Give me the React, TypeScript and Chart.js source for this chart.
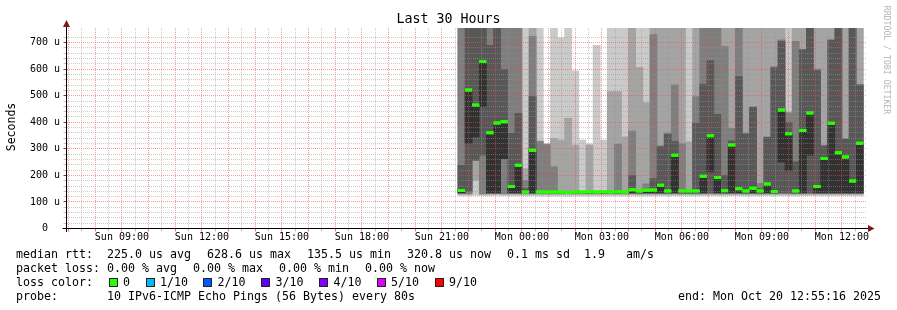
import React, { useEffect, useRef } from "react";
import { Chart, registerables } from "chart.js";

Chart.register(...registerables);

// ---- time axis (hours after Sun 00:00) ----
const RANGE_START = 6 + 55 / 60 + 16 / 3600; // Sun 06:55:16
const RANGE_END = RANGE_START + 30; // Mon 12:55:16
const BIN_START = 21 + 36 / 60; // first 16-minute bin: Sun 21:36
const BIN_HOURS = 16 / 60;
const Y_MAX = 755; // microseconds
const DAY_NAMES = ["Sun", "Mon"];

// ---- sorted ping round-trip times per 16-minute bin (µs) ----
const ping1 = [124,124,125,124,124,125,124,124,124,123,124,123,123,123,123,122,123,123,123,123,123,123,123,123,124,123,123,123,124,123,124,123,123,123,124,124,124,123,124,124,123,124,123,124,123,124,124,123,124,124,124,124,124,124,124,124,124];
const ping2 = [128,128,181,128,128,128,128,128,128,128,128,128,128,128,128,128,128,128,128,128,128,128,128,128,128,128,128,128,128,128,128,128,128,128,128,128,128,128,128,128,128,128,128,128,128,128,128,128,128,128,128,128,128,128,128,128,128];
const ping3 = [131,131,255,131,131,131,131,131,131,131,131,131,131,131,131,131,131,131,131,131,131,131,131,131,131,131,131,131,131,131,131,131,131,131,131,131,131,131,131,131,131,131,131,131,131,131,131,131,131,131,131,131,131,131,131,131,131];
const ping4 = [133,140,257,276,133,133,262,133,133,133,133,133,133,133,133,133,133,133,133,133,133,133,133,133,133,133,133,133,133,133,133,133,133,133,133,135,133,133,133,133,133,133,133,133,133,135,135,133,133,135,133,133,133,133,133,133,133];
const ping5 = [135,320,345,459,135,135,263,135,135,135,135,135,135,135,135,135,135,135,135,135,135,135,135,135,135,135,135,135,135,135,135,135,135,135,135,213,135,135,135,135,135,135,135,135,135,251,219,135,135,276,135,135,135,135,135,135,135];
const ping6 = [143,522,465,629,361,397,402,160,238,138,295,137,137,137,137,137,137,137,137,137,137,137,137,137,146,140,143,145,165,141,276,141,141,141,197,349,192,142,314,152,141,152,141,168,139,446,357,141,369,435,158,264,396,285,269,179,321];
const ping7 = [238,800,800,800,690,800,598,358,434,150,497,140,140,140,138,138,138,138,138,138,138,138,139,138,200,141,145,188,308,355,327,143,142,396,543,632,430,200,330,572,356,455,150,343,605,705,400,251,673,800,595,310,709,800,336,800,540];
const ping8 = [800,800,800,800,800,800,800,800,800,180,724,327,316,232,138,138,140,139,140,139,139,140,318,140,367,142,168,730,312,360,541,320,145,497,800,800,800,686,377,800,360,459,170,345,610,710,436,705,675,800,600,314,711,800,339,800,543];
const ping9 = [800,800,800,800,800,800,800,800,800,226,800,330,318,339,333,415,314,140,314,140,140,516,516,345,800,607,474,800,800,800,800,800,327,800,800,800,800,800,800,800,800,800,800,800,800,800,438,800,800,800,800,800,800,800,800,800,800];
const ping10 = [800,800,800,800,800,800,800,800,800,800,800,800,320,800,718,800,594,333,318,690,333,800,800,800,800,800,800,800,800,800,800,800,800,800,800,800,800,800,800,800,800,800,800,800,800,800,800,800,800,800,800,800,800,800,800,800,800];
const medianRtt = [143,522,465,629,361,397,402,158,238,137,295,137,137,137,137,136,137,137,138,137,138,137,138,137,146,141,144,145,163,141,276,141,141,141,197,349,192,142,314,150,141,152,141,168,139,446,357,141,369,435,158,264,396,285,269,179,320.8];

const PINGS = [ping1, ping2, ping3, ping4, ping5, ping6, ping7, ping8, ping9, ping10];
const SMOKE_COLORS = ["#cacaca", "#a4a4a4", "#7e7e7e", "#585858", "#323232"];
const MEDIAN_COLOR = "#26ff00";

// ---- legend content ----
const LOSS_LABELS = ["0", "1/10", "2/10", "3/10", "4/10", "5/10", "9/10"];
const LOSS_COLORS = ["#26ff00", "#00b8ff", "#0059ff", "#5e00ff", "#7e00ff", "#dd00ff", "#ff0000"];
const RTT_STATS = ["225.0 us avg", "628.6 us max", "135.5 us min", "320.8 us now", "0.1 ms sd", "1.9   am/s"];
const LOSS_STATS = ["0.00 % avg", "0.00 % max", "0.00 % min", "0.00 % now"];

const MINOR_GRID = "rgba(150,150,150,0.5)";
const MAJOR_GRID = "rgba(255,70,70,0.55)";
const MONO = "'DejaVu Sans Mono', monospace";

const X_TICKS: number[] = [];
for (let h = Math.ceil(RANGE_START * 2) / 2; h < RANGE_END; h += 0.5) X_TICKS.push(h);

const binCenter = (k: number) => BIN_START + (k + 0.5) * BIN_HOURS;

const axisPlugin = {
  id: "rrdAxes",
  afterDraw(chart: any) {
    const { ctx, chartArea: a } = chart;
    // median marks on top of the grid
    const meta = chart.getDatasetMeta(0);
    ctx.save();
    ctx.beginPath();
    ctx.rect(a.left, a.top, a.right - a.left, a.bottom - a.top);
    ctx.clip();
    meta.data.forEach((el: any) => el.draw(ctx, a));
    ctx.restore();

    ctx.save();
    ctx.strokeStyle = "#000";
    ctx.lineWidth = 1;
    ctx.beginPath();
    ctx.moveTo(a.left - 4, a.bottom);
    ctx.lineTo(a.right + 3, a.bottom);
    ctx.moveTo(a.left, a.bottom + 3.5);
    ctx.lineTo(a.left, a.top - 3);
    ctx.stroke();
    ctx.fillStyle = "#7f1818";
    ctx.beginPath();
    ctx.moveTo(a.right + 1.5, a.bottom - 3.5);
    ctx.lineTo(a.right + 1.5, a.bottom + 3.5);
    ctx.lineTo(a.right + 8, a.bottom);
    ctx.closePath();
    ctx.fill();
    ctx.beginPath();
    ctx.moveTo(a.left - 3.5, a.top - 1);
    ctx.lineTo(a.left + 3.5, a.top - 1);
    ctx.lineTo(a.left, a.top - 8);
    ctx.closePath();
    ctx.fill();
    ctx.restore();
  },
};

function Txt(props: { x: number; y: number; children: React.ReactNode; right?: boolean; size?: number }) {
  const style: React.CSSProperties = {
    position: "absolute",
    top: props.y,
    fontFamily: MONO,
    fontSize: props.size ?? 11.63,
    lineHeight: "14px",
    whiteSpace: "pre",
    color: "#000",
  };
  if (props.right) style.right = 897 - props.x;
  else style.left = props.x;
  return <div style={style}>{props.children}</div>;
}

export default function App() {
  const canvasRef = useRef<HTMLCanvasElement>(null);

  useEffect(() => {
    const canvas = canvasRef.current;
    if (!canvas) return;

    const smokeSets = SMOKE_COLORS.map((color, i) => {
      const lo = PINGS[i];
      const hi = PINGS[PINGS.length - 1 - i];
      return {
        type: "bar" as const,
        label: `smoke ${i + 1}`,
        data: lo.map((v, k) => ({ x: binCenter(k), y: [v, hi[k]] })),
        backgroundColor: color,
        borderWidth: 0,
        grouped: false,
        barPercentage: 1,
        categoryPercentage: 1,
        order: SMOKE_COLORS.length - i,
      };
    });

    const medianSet = {
      type: "line" as const,
      label: "median rtt",
      data: medianRtt.map((v, k) => ({ x: binCenter(k), y: v })),
      showLine: false,
      pointStyle: "line",
      pointRadius: 3.56,
      pointBorderWidth: 3,
      pointBorderColor: MEDIAN_COLOR,
      pointBackgroundColor: MEDIAN_COLOR,
      order: 0,
    };

    const chart = new Chart(canvas, {
      type: "bar",
      data: { datasets: [medianSet as any, ...smokeSets.reverse()] },
      options: {
        responsive: false,
        animation: false,
        events: [],
        layout: { padding: { left: 0, right: 30.5, top: 28, bottom: 0 } },
        plugins: { legend: { display: false }, tooltip: { enabled: false }, title: { display: false } },
        scales: {
          x: {
            type: "linear",
            min: RANGE_START,
            max: RANGE_END,
            offset: false,
            afterBuildTicks: (axis: any) => {
              axis.ticks = X_TICKS.map((v) => ({ value: v }));
            },
            afterFit: (axis: any) => {
              axis.height = 81.5;
            },
            grid: {
              offset: false,
              z: 1,
              lineWidth: 1,
              color: (c: any) => (c.tick && c.tick.value % 1 === 0 ? MAJOR_GRID : MINOR_GRID),
              tickColor: (c: any) => (c.tick && c.tick.value % 1 === 0 ? "rgba(255,70,70,0.8)" : "rgba(150,150,150,0.6)"),
              tickLength: 3,
              drawTicks: true,
            },
            border: { display: false, dash: [1, 1] },
            ticks: {
              autoSkip: false,
              maxRotation: 0,
              minRotation: 0,
              padding: 0,
              color: "#000",
              font: { family: "DejaVu Sans Mono", size: 10 },
              callback: (v: any) => {
                const h = Number(v);
                if (Math.abs(h % 3) > 1e-6) return "";
                const day = DAY_NAMES[Math.floor(h / 24)];
                const hh = Math.round(h % 24);
                return `${day} ${String(hh).padStart(2, "0")}:00`;
              },
            },
          },
          y: {
            type: "linear",
            min: 0,
            max: Y_MAX,
            afterBuildTicks: (axis: any) => {
              axis.ticks = axis.ticks.filter((t: any) => t.value % 20 === 0);
            },
            afterFit: (axis: any) => {
              axis.width = 66.5;
            },
            grid: {
              z: 1,
              lineWidth: 1,
              color: (c: any) => (c.tick && c.tick.value % 100 === 0 ? MAJOR_GRID : MINOR_GRID),
              tickColor: (c: any) => (c.tick && c.tick.value % 100 === 0 ? "rgba(120,0,0,0.8)" : "rgba(150,150,150,0.6)"),
              tickLength: 3,
              drawTicks: true,
            },
            border: { display: false, dash: [1, 1] },
            ticks: {
              stepSize: 20,
              autoSkip: false,
              padding: 3.5,
              color: "#000",
              font: { family: "DejaVu Sans Mono", size: 10 },
              callback: (v: any) => {
                const n = Number(v);
                if (n % 100 !== 0) return "";
                return n === 0 ? "0  " : `${n} u`;
              },
            },
          },
        },
      },
      plugins: [axisPlugin],
    } as any);

    return () => chart.destroy();
  }, []);

  const rttX = [107, 207, 307, 407, 507, 584];
  const lossX = [107, 193, 279, 365];
  const boxX = [108.5, 145.5, 203, 261, 319, 376.5, 434.5];

  return (
    <div style={{ position: "fixed", left: 0, top: 0, width: 897, height: 310, background: "#fff", overflow: "hidden" }}>
      <canvas ref={canvasRef} width={897} height={310} style={{ position: "absolute", left: 0, top: 0, width: 897, height: 310 }} />
      <div style={{ position: "absolute", left: 0, top: 11.4, width: 897, textAlign: "center", fontFamily: MONO, fontSize: 13.3, lineHeight: "16px", color: "#000" }}>
        Last 30 Hours
      </div>
      <div style={{ position: "absolute", left: 11 - 40, top: 127 - 7, width: 80, height: 14, lineHeight: "14px", textAlign: "center", fontFamily: MONO, fontSize: 11.5, color: "#000", transform: "rotate(-90deg)" }}>
        Seconds
      </div>
      <div style={{ position: "absolute", left: 886.5 - 60, top: 59.5 - 5, width: 120, height: 10, lineHeight: "10px", textAlign: "center", fontFamily: MONO, fontSize: 8.2, color: "#b4b4b4", transform: "rotate(90deg)" }}>
        RRDTOOL / TOBI OETIKER
      </div>

      <Txt x={16} y={247.3}>median rtt:</Txt>
      {RTT_STATS.map((s, i) => (
        <Txt key={"r" + i} x={rttX[i]} y={247.3}>{s}</Txt>
      ))}
      <Txt x={16} y={261.3}>packet loss:</Txt>
      {LOSS_STATS.map((s, i) => (
        <Txt key={"l" + i} x={lossX[i]} y={261.3}>{s}</Txt>
      ))}
      <Txt x={16} y={275.3}>loss color:</Txt>
      {LOSS_LABELS.map((s, i) => (
        <React.Fragment key={"c" + i}>
          <div style={{ position: "absolute", left: boxX[i], top: 277.5, width: 9, height: 9, boxSizing: "border-box", border: "1px solid #222", background: LOSS_COLORS[i] }} />
          <Txt x={boxX[i] + 14.5} y={275.3}>{s}</Txt>
        </React.Fragment>
      ))}
      <Txt x={16} y={289.3}>probe:</Txt>
      <Txt x={107} y={289.3}>10 IPv6-ICMP Echo Pings (56 Bytes) every 80s</Txt>
      <Txt x={881} y={289.3} right>end: Mon Oct 20 12:55:16 2025</Txt>
    </div>
  );
}
